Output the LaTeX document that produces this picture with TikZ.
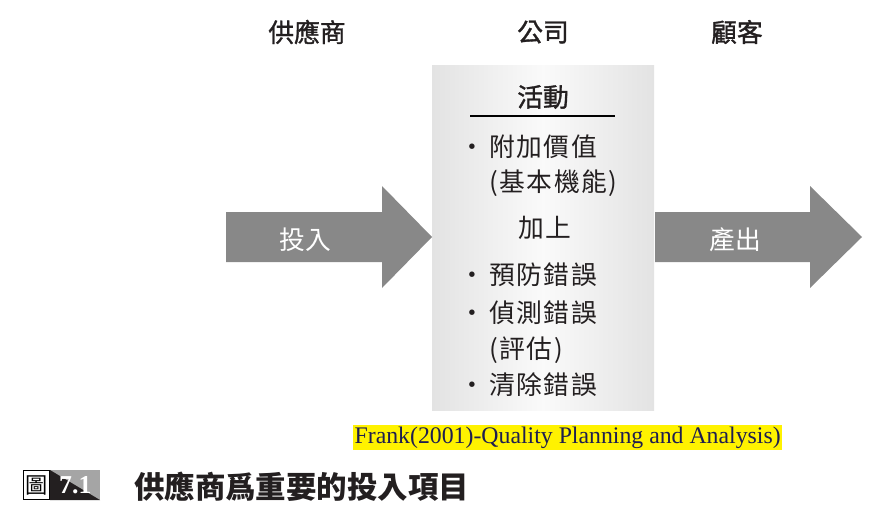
\documentclass[tikz,border=0pt]{standalone}
\usepackage{fontspec}
\usepackage{tikz}
\usepackage{xcolor}
\setmainfont{Liberation Serif}
\newfontfamily\cjk{Noto Sans CJK TC}
\newfontfamily\cjkmed[FakeBold=1.3]{Noto Sans CJK TC}
\newfontfamily\cjkwide[LetterSpace=6]{Noto Sans CJK TC}
\definecolor{arrowgray}{RGB}{136,136,136}
\definecolor{citeblue}{RGB}{30,30,80}
\definecolor{tagdark}{RGB}{35,31,32}
\definecolor{taggray}{RGB}{165,165,165}

\begin{document}
\begin{tikzpicture}[x=1cm,y=1cm,
  hdr/.style={text=tagdark,font=\cjkmed\fontsize{22}{26}\selectfont},
  act/.style={anchor=west,text=tagdark,font=\cjkwide\fontsize{22}{26}\selectfont},
  arrowtxt/.style={text=white,font=\cjk\fontsize{22}{26}\selectfont}]
\useasboundingbox (0,0) rectangle (26.58,-15.36);
% column heads
\node[hdr] (sup) at (9.21,-0.96) {供應商};
\node[hdr] (co) at (16.29,-0.96) {公司};
\node[hdr] (cus) at (22.11,-0.96) {顧客};
% company box
\shade[left color=gray!22,right color=gray!22,middle color=gray!4] (12.96,-1.98) rectangle (19.62,-12.3);
\node[hdr] (act) at (16.29,-2.91) {活動};
\draw[line width=1.4pt] (14.1,-3.48) -- (18.45,-3.48);
\node[act] (v1) at (14.55,-4.41) {\llap{\textbullet\,}附加價值};
\node[act] (v2) at (14.55,-5.49) {(基本機能)};
\node[act,anchor=center] (plus) at (16.35,-6.84) {加上};
\node[act] (p1) at (14.55,-8.25) {\llap{\textbullet\,}預防錯誤};
\node[act] (p2) at (14.55,-9.39) {\llap{\textbullet\,}偵測錯誤};
\node[act] (p3) at (14.55,-10.5) {(評估)};
\node[act] (p4) at (14.55,-11.55) {\llap{\textbullet\,}清除錯誤};
% input arrow
\fill[arrowgray] (6.78,-6.36) -- (11.46,-6.36) -- (11.46,-5.58) -- (12.96,-7.11)
  -- (11.46,-8.64) -- (11.46,-7.86) -- (6.78,-7.86) -- cycle;
\node[arrowtxt] (in) at (9.15,-7.2) {投入};
% output arrow
\fill[arrowgray] (19.65,-6.36) -- (24.3,-6.36) -- (24.3,-5.58) -- (25.86,-7.11)
  -- (24.3,-8.64) -- (24.3,-7.86) -- (19.65,-7.86) -- cycle;
\node[arrowtxt] (out) at (22.05,-7.2) {產出};
% source
\fill[yellow] (10.59,-12.75) rectangle (23.46,-13.5);
\node[text=citeblue,font=\fontsize{20.3}{23}\selectfont] (src) at (17.03,-13.13) {Frank(2001)-Quality Planning and Analysis)};
% caption
\draw[fill=white,line width=0.8pt] (0.7,-14.12) rectangle (1.48,-14.98);
\node[font=\cjk\fontsize{19}{22}\selectfont] (fig) at (1.09,-14.55) {圖};
\fill[taggray] (1.5,-14.1) rectangle (3.0,-15.0);
\fill[tagdark] (1.5,-14.1) -- (3.0,-15.0) -- (1.5,-15.0) -- cycle;
\node[text=white,font=\bfseries\fontsize{22}{24}\selectfont] (num) at (2.26,-14.55) {7.1};
\node[anchor=west,text=tagdark,font=\cjk\bfseries\fontsize{26}{30}\selectfont] (cap) at (3.9,-14.61) {供應商爲重要的投入項目};
\end{tikzpicture}
\end{document}
